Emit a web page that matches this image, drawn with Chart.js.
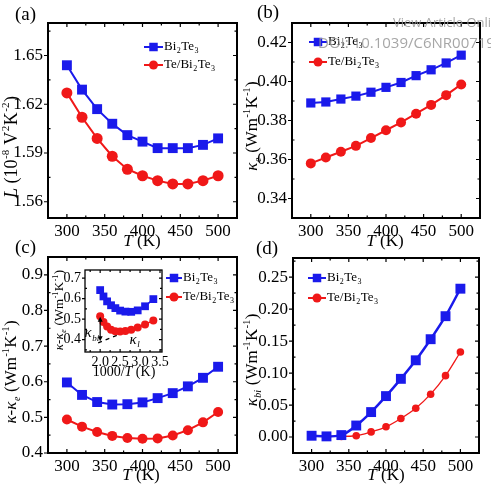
<!DOCTYPE html>
<html><head><meta charset="utf-8">
<script src="https://cdn.jsdelivr.net/npm/chart.js@4.4.1/dist/chart.umd.min.js"></script>
<style>
html,body{margin:0;padding:0;background:#fff;width:491px;height:484px;overflow:hidden}
canvas{position:absolute;left:0;top:0}
.wm{position:absolute;color:rgba(150,150,150,0.85);font-family:'Open Sans','DejaVu Sans',sans-serif;white-space:nowrap}
</style></head><body>
<canvas id="ca" width="491" height="484"></canvas>
<canvas id="cb" width="491" height="484"></canvas>
<canvas id="cc" width="491" height="484"></canvas>
<canvas id="cd" width="491" height="484"></canvas>
<canvas id="ci" width="491" height="484"></canvas>
<div class="wm" style="left:393px;top:13px;font-size:13px">View Article Online</div>
<div class="wm" style="left:318px;top:32px;font-size:15px">DOI: 10.1039/C6NR00719H</div>
<script>
// ---------- data ----------
const temps = [300,320,340,360,380,400,420,440,460,480,500];
const invT  = [3.333,3.125,2.941,2.778,2.632,2.5,2.381,2.273,2.174,2.083,2.0];
const xTicks = [300,350,400,450,500];

const L_Bi2Te3   = [1.644,1.629,1.617,1.608,1.601,1.597,1.593,1.593,1.593,1.595,1.599];
const L_TeBi2Te3 = [1.627,1.612,1.599,1.588,1.580,1.576,1.573,1.571,1.571,1.573,1.576];
const L_ticks = [1.56,1.59,1.62,1.65];

const ke_Bi2Te3   = [0.389,0.3895,0.391,0.3925,0.3945,0.397,0.3995,0.403,0.406,0.4095,0.4135];
const ke_TeBi2Te3 = [0.358,0.361,0.364,0.367,0.371,0.375,0.379,0.3835,0.388,0.393,0.3985];
const ke_ticks = [0.34,0.36,0.38,0.40,0.42];

const kk_Bi2Te3   = [0.598,0.563,0.543,0.536,0.537,0.542,0.554,0.568,0.587,0.611,0.642];
const kk_TeBi2Te3 = [0.494,0.474,0.459,0.448,0.442,0.440,0.441,0.449,0.464,0.486,0.515];
const kk_ticks = [0.4,0.5,0.6,0.7,0.8,0.9];

const kbi_Bi2Te3   = [0.002,0.001,0.003,0.018,0.039,0.064,0.091,0.120,0.153,0.189,0.232];
const kbi_TeBi2Te3 = [0.002,0.001,0.001,0.002,0.008,0.016,0.029,0.045,0.067,0.096,0.133];
const kbi_ticks = [0,0.05,0.10,0.15,0.20,0.25];

const inset_xTicks = [2.0,2.5,3.0,3.5];
const inset_yTicks = [0.4,0.5,0.6,0.7];
const kl_line_x = [1.95,3.25];
const kl_line_y = [0.385,0.485];
const kbi_arrow_x = 2.0, kbi_arrow_top = 0.512, kbi_arrow_bottom = 0.392;

// ---------- styling ----------
const BLUE = '#1a1aeb', RED = '#f01818';
const SERIF = "'Liberation Serif','Times New Roman',serif";

function segFont(s,size){
  const sz = (s.sub||s.sup) ? Math.round(size*0.6) : size;
  return (s.it?'italic ':'') + sz + 'px ' + SERIF;
}
function drawRich(ctx, segs, x, y, size, opts){
  opts = opts||{};
  ctx.save();
  ctx.translate(x,y);
  if(opts.rotate) ctx.rotate(-Math.PI/2);
  let w = 0;
  segs.forEach(s=>{ctx.font=segFont(s,size); w+=ctx.measureText(s.t).width + (s.sup||s.sub?1:0);});
  let cx = opts.align==='left' ? 0 : -w/2;
  ctx.textBaseline='middle'; ctx.textAlign='left'; ctx.fillStyle='#000';
  segs.forEach(s=>{
    ctx.font=segFont(s,size);
    const dy = s.sub ? size*0.32 : (s.sup ? -size*0.34 : 0);
    ctx.fillText(s.t,cx+(s.sup||s.sub?0.5:0),dy);
    cx += ctx.measureText(s.t).width + (s.sup||s.sub?1:0);
  });
  ctx.restore();
}
const UNIT = [{t:' (Wm'},{t:'-1',sup:1},{t:'K'},{t:'-1',sup:1},{t:')'}];
const titleL  = [{t:'L',it:1},{t:' (10'},{t:'-8',sup:1},{t:' V'},{t:'2',sup:1},{t:'K'},{t:'-2',sup:1},{t:')'}];
const titleKe = [{t:'κ',it:1},{t:'e',sub:1,it:1}].concat(UNIT);
const titleKK = [{t:'κ',it:1},{t:'-'},{t:'κ',it:1},{t:'e',sub:1,it:1}].concat(UNIT);
const titleKbi= [{t:'κ',it:1},{t:'bi',sub:1,it:1}].concat(UNIT);
const titleT  = [{t:'T',it:1},{t:' (K)'}];
const titleInvT=[{t:'1000/'},{t:'T',it:1},{t:' (K)'}];
const legBi = [{t:'Bi'},{t:'2',sub:1},{t:'Te'},{t:'3',sub:1}];
const legTe = [{t:'Te/Bi'},{t:'2',sub:1},{t:'Te'},{t:'3',sub:1}];

function marker(ctx, type, x, y, r, color){
  ctx.save(); ctx.fillStyle=color;
  if(type==='rect'){ const h=r*Math.SQRT1_2; ctx.fillRect(x-h,y-h,2*h,2*h); }
  else { ctx.beginPath(); ctx.arc(x,y,r,0,Math.PI*2); ctx.fill(); }
  ctx.restore();
}
function legend(ctx, x1, x2, tx, y1, y2, size, rB, rR){
  [[y1,BLUE,'rect',legBi,rB],[y2,RED,'circle',legTe,rR]].forEach(([y,c,t,segs,r])=>{
    ctx.save(); ctx.strokeStyle=c; ctx.lineWidth=2; ctx.beginPath(); ctx.moveTo(x1,y); ctx.lineTo(x2,y); ctx.stroke(); ctx.restore();
    marker(ctx,t,(x1+x2)/2,y,r,c);
    drawRich(ctx,segs,tx,y,size,{align:'left'});
  });
}

function ds(xs, ys, color, style, r, lw, extra){
  return Object.assign({
    data: xs.map((x,i)=>({x:x,y:ys[i]})),
    borderColor: color, backgroundColor: color,
    pointStyle: style, pointRadius: r, pointBorderWidth: 0,
    borderWidth: lw, tension: 0, clip: false
  }, extra||{});
}

function minorsOf(t, lo, hi){
  const st=(t[1]-t[0])/2, out=[];
  for(let v=t[0]-st; v<=hi+1e-9; v+=2*st){ if(v>lo+1e-9 && v<hi-1e-9) out.push(v); }
  return out;
}

function makeChart(id, o){
  const f = o.frame;
  const deco = {
    id:'deco',
    afterDraw(chart){
      const ctx = chart.ctx, a = chart.chartArea, sx = chart.scales.x, sy = chart.scales.y;
      ctx.save();
      ctx.strokeStyle='#000'; ctx.lineWidth=1.2;
      const tl = o.tickLen||4, ml = o.minorLen||2.5;
      ctx.beginPath();
      o.xTicks.forEach(v=>{ const p=sx.getPixelForValue(v);
        ctx.moveTo(p,a.bottom); ctx.lineTo(p,a.bottom-tl);
        ctx.moveTo(p,a.top); ctx.lineTo(p,a.top+tl); });
      minorsOf(o.xTicks,o.xMin,o.xMax).forEach(v=>{ const p=sx.getPixelForValue(v);
        ctx.moveTo(p,a.bottom); ctx.lineTo(p,a.bottom-ml);
        ctx.moveTo(p,a.top); ctx.lineTo(p,a.top+ml); });
      o.yTicks.forEach(v=>{ const p=sy.getPixelForValue(v);
        ctx.moveTo(a.left,p); ctx.lineTo(a.left-tl,p);
        ctx.moveTo(a.right,p); ctx.lineTo(a.right-tl,p); });
      minorsOf(o.yTicks,o.yMin,o.yMax).forEach(v=>{ const p=sy.getPixelForValue(v);
        ctx.moveTo(a.left,p); ctx.lineTo(a.left+ml,p);
        ctx.moveTo(a.right,p); ctx.lineTo(a.right-ml,p); });
      ctx.stroke();
      ctx.lineWidth = o.frameW||2;
      ctx.strokeRect(a.left,a.top,a.right-a.left,a.bottom-a.top);
      ctx.restore();
      if(o.extras) o.extras(chart);
    }
  };
  const tfont = {family:SERIF, size:o.fs};
  return new Chart(document.getElementById(id), {
    type:'line',
    data:{datasets:o.datasets},
    options:{
      responsive:false, animation:false, devicePixelRatio:1, events:[],
      layout:{padding:{left:f.l-o.yW, top:f.t, right:491-f.r, bottom:484-f.b-o.xH}},
      plugins:{legend:{display:false}, tooltip:{enabled:false}},
      scales:{
        x:{type:'linear', min:o.xMin, max:o.xMax,
           grid:{display:false, drawTicks:false}, border:{display:false},
           afterBuildTicks:s=>{s.ticks=o.xTicks.map(v=>({value:v}));},
           afterFit:s=>{s.height=o.xH;},
           ticks:{font:tfont, color:'#000', padding:o.xPad||3, maxRotation:0, autoSkip:false,
                  callback:v=>o.xFmt(v)}},
        y:{type:'linear', min:o.yMin, max:o.yMax,
           grid:{display:false, drawTicks:false}, border:{display:false},
           afterBuildTicks:s=>{s.ticks=o.yTicks.map(v=>({value:v}));},
           afterFit:s=>{s.width=o.yW;},
           ticks:{font:tfont, color:'#000', padding:o.yPad||5, autoSkip:false,
                  callback:v=>o.yFmt(v)}}
      }
    },
    plugins:[deco]
  });
}

const fmt0 = v=>String(Math.round(v));
const fmt2 = v=>v.toFixed(2);
const fmt1 = v=>v.toFixed(1);

function panelLabel(ctx, txt, x, y){
  ctx.save(); ctx.font='19px '+SERIF; ctx.fillStyle='#000'; ctx.textBaseline='middle'; ctx.textAlign='left';
  ctx.fillText(txt,x,y); ctx.restore();
}

// (a)
makeChart('ca',{
  frame:{l:48,t:23,r:237,b:218}, yW:48, xH:22, fs:17,
  xMin:275,xMax:525,yMin:1.55,yMax:1.67, xTicks:xTicks, yTicks:L_ticks, xFmt:fmt0, yFmt:fmt2,
  datasets:[ds(temps,L_Bi2Te3,BLUE,'rect',7,2), ds(temps,L_TeBi2Te3,RED,'circle',5.5,2)],
  extras(ch){ const c=ch.ctx;
    panelLabel(c,'(a)',15,15);
    drawRich(c,titleL,12,147,18,{rotate:true});
    drawRich(c,titleT,142,242,17);
    legend(c,144,163,164,47,65,13,6,4.5);
  }
});
// (b)
makeChart('cb',{
  frame:{l:292,t:23,r:480,b:218}, yW:48, xH:22, fs:17,
  xMin:275,xMax:525,yMin:0.33,yMax:0.43, xTicks:xTicks, yTicks:ke_ticks, xFmt:fmt0, yFmt:fmt2,
  datasets:[ds(temps,ke_Bi2Te3,BLUE,'rect',6.5,2), ds(temps,ke_TeBi2Te3,RED,'circle',5,2)],
  extras(ch){ const c=ch.ctx;
    panelLabel(c,'(b)',257,13);
    drawRich(c,titleKe,253,126,17,{rotate:true});
    drawRich(c,titleT,385,242,17);
    legend(c,309,327,328,42,62,13,6,4.5);
  }
});
// (c)
makeChart('cc',{
  frame:{l:48,t:257,r:237,b:453}, yW:48, xH:22, fs:17,
  xMin:275,xMax:525,yMin:0.4,yMax:0.95, xTicks:xTicks, yTicks:kk_ticks, xFmt:fmt0, yFmt:fmt1,
  datasets:[ds(temps,kk_Bi2Te3,BLUE,'rect',7,2), ds(temps,kk_TeBi2Te3,RED,'circle',5,2)],
  extras(ch){ const c=ch.ctx;
    panelLabel(c,'(c)',15,248);
    drawRich(c,titleKK,12,372,17,{rotate:true});
    drawRich(c,titleT,141,476,17);
    legend(c,166,182,183,278,297,13,6,4.5);
  }
});
// (d)
makeChart('cd',{
  frame:{l:293,t:258,r:479,b:453}, yW:48, xH:22, fs:17,
  xMin:275,xMax:525,yMin:-0.025,yMax:0.28, xTicks:xTicks, yTicks:kbi_ticks, xFmt:fmt0, yFmt:fmt2,
  datasets:[ds(temps,kbi_Bi2Te3,BLUE,'rect',7,2.5,{cubicInterpolationMode:'monotone'}),
            ds(temps,kbi_TeBi2Te3,RED,'circle',3.8,1.3,{cubicInterpolationMode:'monotone'})],
  extras(ch){ const c=ch.ctx;
    panelLabel(c,'(d)',256,249);
    drawRich(c,titleKbi,253,360,17,{rotate:true});
    drawRich(c,titleT,386,476,17);
    legend(c,308,326,327,278,298,13,6,4.5);
  }
});
// inset of (c)
makeChart('ci',{
  frame:{l:85,t:270,r:162,b:352}, yW:26, xH:14, fs:14, tickLen:3, minorLen:2, frameW:1.3, xPad:2, yPad:4,
  xMin:1.62,xMax:3.55,yMin:0.34,yMax:0.74, xTicks:inset_xTicks, yTicks:inset_yTicks, xFmt:fmt1, yFmt:fmt1,
  datasets:[ds(invT,kk_Bi2Te3,BLUE,'rect',5.5,1.5), ds(invT,kk_TeBi2Te3,RED,'circle',4,1.5),
            {data:kl_line_x.map((x,i)=>({x:x,y:kl_line_y[i]})), borderColor:'#000', borderWidth:1.3,
             borderDash:[4,4], pointRadius:0, tension:0}],
  extras(ch){ const c=ch.ctx, sx=ch.scales.x, sy=ch.scales.y;
    const ax=sx.getPixelForValue(kbi_arrow_x), y1=sy.getPixelForValue(kbi_arrow_top), y2=sy.getPixelForValue(kbi_arrow_bottom);
    c.save(); c.strokeStyle='#000'; c.fillStyle='#000'; c.lineWidth=1.2;
    c.beginPath(); c.moveTo(ax,y1+3); c.lineTo(ax,y2-3); c.stroke();
    c.beginPath(); c.moveTo(ax,y1); c.lineTo(ax-2.5,y1+5); c.lineTo(ax+2.5,y1+5); c.closePath(); c.fill();
    c.beginPath(); c.moveTo(ax,y2); c.lineTo(ax-2.5,y2-5); c.lineTo(ax+2.5,y2-5); c.closePath(); c.fill();
    c.restore();
    drawRich(c,[{t:'κ',it:1},{t:'bi',sub:1,it:1}],sx.getPixelForValue(1.8),sy.getPixelForValue(0.43),15);
    drawRich(c,[{t:'κ',it:1},{t:'l',sub:1,it:1}],sx.getPixelForValue(2.87),sy.getPixelForValue(0.40),15);
    drawRich(c,titleKK,60,310,13,{rotate:true});
    drawRich(c,titleInvT,124,372,14);
  }
});
</script>
</body></html>
